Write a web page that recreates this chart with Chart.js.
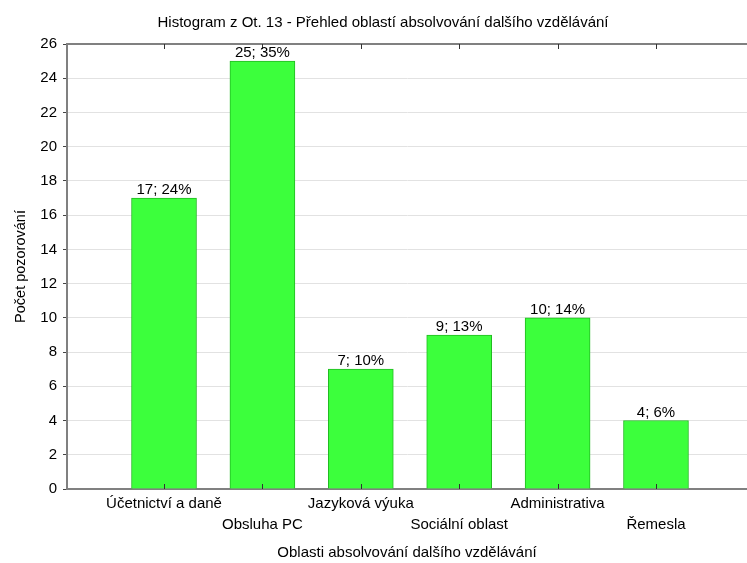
<!DOCTYPE html>
<html>
<head>
<meta charset="utf-8">
<script src="https://cdn.jsdelivr.net/npm/chart.js@4.4.1/dist/chart.umd.min.js"></script>
<style>
  html, body { margin: 0; padding: 0; background: #fff; overflow: hidden; }
  #wrap { width: 747px; height: 563px; }
</style>
</head>
<body>
<div id="wrap"><canvas id="c" width="747" height="563"></canvas></div>
<script>
// Categories and observed counts
const categories = ['Účetnictví a daně', 'Obsluha PC', 'Jazyková výuka', 'Sociální oblast', 'Administrativa', 'Řemesla'];
const counts = [17, 25, 7, 9, 10, 4];
const yMin = 0;
const yMax = 26;
const yStep = 2;

const chartTitle = 'Histogram z Ot. 13 - Přehled oblastí absolvování dalšího vzdělávání';
const xAxisTitle = 'Oblasti absolvování dalšího vzdělávání';
const yAxisTitle = 'Počet pozorování';

const total = counts.reduce((a, b) => a + b, 0);
const percents = counts.map(c => Math.round(c / total * 100));
const valueLabels = counts.map((c, i) => c + '; ' + percents[i] + '%');

const FONT = 'Liberation Sans, Arial, sans-serif';

const framePlugin = {
  id: 'frame',
  afterDatasetsDraw(chart) {
    const { ctx, chartArea } = chart;
    const xs = chart.scales.x;
    ctx.save();
    // top frame line
    ctx.strokeStyle = '#808080';
    ctx.lineWidth = 2;
    ctx.beginPath();
    ctx.moveTo(chartArea.left, chartArea.top);
    ctx.lineTo(chartArea.right, chartArea.top);
    ctx.stroke();
    // category tick marks pointing inward from top and bottom
    ctx.strokeStyle = '#333';
    ctx.lineWidth = 1;
    categories.forEach((_, i) => {
      const px = Math.round(xs.getPixelForValue(i + 1)) + 0.5;
      ctx.beginPath();
      ctx.moveTo(px, chartArea.top);
      ctx.lineTo(px, chartArea.top + 5);
      ctx.moveTo(px, chartArea.bottom);
      ctx.lineTo(px, chartArea.bottom - 5);
      ctx.stroke();
    });
    // value labels above the bars
    const meta = chart.getDatasetMeta(0);
    ctx.fillStyle = '#000';
    ctx.font = '15px ' + FONT;
    ctx.textAlign = 'center';
    ctx.textBaseline = 'middle';
    meta.data.forEach((bar, i) => {
      ctx.fillText(valueLabels[i], bar.x, bar.y - 8);
    });
    // chart title
    ctx.fillText(chartTitle, 383, 23);
    ctx.restore();
  }
};

new Chart(document.getElementById('c'), {
  type: 'bar',
  data: {
    datasets: [{
      data: counts.map((c, i) => ({ x: i + 1, y: c })),
      backgroundColor: '#3cff3c',
      borderColor: '#22bb22',
      borderWidth: 1,
      barThickness: 65,
      grouped: false
    }]
  },
  options: {
    responsive: false,
    animation: false,
    devicePixelRatio: 1,
    layout: { padding: { top: 44, left: 0, right: 0, bottom: 0 } },
    plugins: {
      legend: { display: false },
      tooltip: { enabled: false },
      title: { display: false }
    },
    scales: {
      x: {
        type: 'linear',
        offset: false,
        min: 0.014,
        max: 6.925,
        afterFit(s) { s.height = 74; },
        afterBuildTicks(s) { s.ticks = categories.map((_, i) => ({ value: i + 1 })); },
        ticks: {
          autoSkip: false,
          maxRotation: 0,
          padding: -4,
          color: '#000',
          font: { family: FONT, size: 15, lineHeight: 1.4 },
          callback(value, index) {
            const label = categories[index];
            return index % 2 === 0 ? label : ['', label];
          }
        },
        grid: { display: false, offset: false },
        border: { display: true, color: '#808080', width: 2 },
        title: {
          display: true,
          text: xAxisTitle,
          color: '#000',
          font: { family: FONT, size: 15 },
          padding: { top: 1, bottom: 1 }
        }
      },
      y: {
        min: yMin,
        max: yMax,
        afterFit(s) { s.width = 67; },
        ticks: {
          stepSize: yStep,
          padding: 6,
          color: '#000',
          font: { family: FONT, size: 15 }
        },
        grid: { color: '#e2e2e2', lineWidth: 1, tickLength: 4, tickColor: '#444' },
        border: { display: true, color: '#808080', width: 2 },
        title: {
          display: true,
          text: yAxisTitle,
          color: '#000',
          font: { family: FONT, size: 14.5 },
          padding: { top: 12, bottom: 0 }
        }
      }
    }
  },
  plugins: [framePlugin]
});
</script>
</body>
</html>
